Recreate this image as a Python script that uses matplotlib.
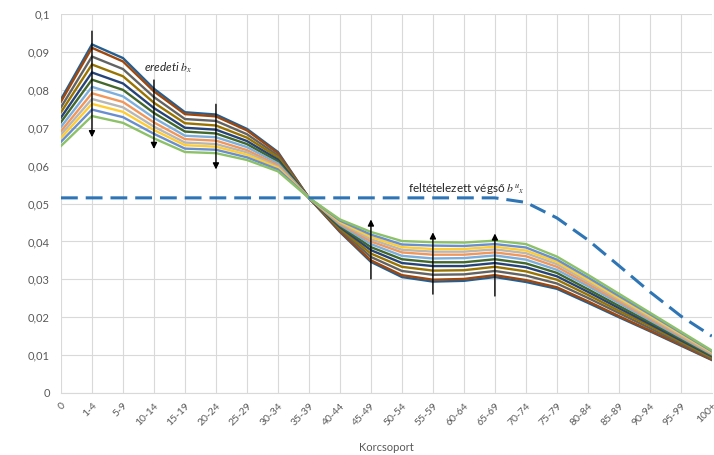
##### b_x convergence chart #####
# Plots the original b_x curves by age group converging towards the assumed final b^u_x

import numpy as np
import matplotlib.pyplot as plt

# Age groups (x axis categories)
korcsoport = ['0', '1-4', '5-9', '10-14', '15-19', '20-24', '25-29', '30-34', '35-39', '40-44',
              '45-49', '50-54', '55-59', '60-64', '65-69', '70-74', '75-79', '80-84', '85-89',
              '90-94', '95-99', '100+']

# b_x series (top line at age 1-4 first)
s1 = [0.0775, 0.0920, 0.0884, 0.0803, 0.0741, 0.0735, 0.0697, 0.0636, 0.0515, 0.0425, 0.0346, 0.0306, 0.0294, 0.0296, 0.0306, 0.0293, 0.0275, 0.0238, 0.0200, 0.0163, 0.0125, 0.0087]
s2 = [0.0769, 0.0911, 0.0875, 0.0796, 0.0736, 0.0730, 0.0693, 0.0633, 0.0515, 0.0427, 0.0350, 0.0311, 0.0299, 0.0301, 0.0311, 0.0298, 0.0279, 0.0242, 0.0203, 0.0165, 0.0127, 0.0088]
s3 = [0.0754, 0.0888, 0.0855, 0.0781, 0.0723, 0.0718, 0.0683, 0.0627, 0.0515, 0.0431, 0.0359, 0.0322, 0.0312, 0.0313, 0.0322, 0.0310, 0.0289, 0.0251, 0.0211, 0.0171, 0.0131, 0.0091]
s4 = [0.0741, 0.0867, 0.0836, 0.0766, 0.0712, 0.0706, 0.0674, 0.0622, 0.0515, 0.0434, 0.0368, 0.0333, 0.0323, 0.0324, 0.0333, 0.0321, 0.0299, 0.0259, 0.0217, 0.0177, 0.0135, 0.0094]
s5 = [0.0727, 0.0846, 0.0817, 0.0752, 0.0700, 0.0695, 0.0665, 0.0616, 0.0515, 0.0438, 0.0377, 0.0343, 0.0335, 0.0335, 0.0343, 0.0332, 0.0308, 0.0267, 0.0224, 0.0182, 0.0139, 0.0097]
s6 = [0.0715, 0.0827, 0.0800, 0.0739, 0.0690, 0.0685, 0.0657, 0.0611, 0.0515, 0.0441, 0.0385, 0.0353, 0.0345, 0.0345, 0.0353, 0.0342, 0.0317, 0.0274, 0.0230, 0.0187, 0.0143, 0.0099]
s7 = [0.0702, 0.0808, 0.0783, 0.0726, 0.0679, 0.0675, 0.0649, 0.0606, 0.0515, 0.0444, 0.0393, 0.0362, 0.0355, 0.0356, 0.0363, 0.0352, 0.0325, 0.0282, 0.0237, 0.0192, 0.0147, 0.0102]
s8 = [0.0691, 0.0791, 0.0768, 0.0714, 0.0670, 0.0666, 0.0641, 0.0601, 0.0515, 0.0447, 0.0400, 0.0371, 0.0365, 0.0365, 0.0371, 0.0361, 0.0333, 0.0288, 0.0242, 0.0196, 0.0150, 0.0104]
s9 = [0.0682, 0.0776, 0.0754, 0.0703, 0.0661, 0.0657, 0.0635, 0.0597, 0.0515, 0.0450, 0.0406, 0.0378, 0.0373, 0.0373, 0.0379, 0.0369, 0.0340, 0.0294, 0.0247, 0.0200, 0.0153, 0.0106]
s10 = [0.0673, 0.0763, 0.0742, 0.0694, 0.0654, 0.0650, 0.0629, 0.0594, 0.0515, 0.0452, 0.0412, 0.0385, 0.0380, 0.0380, 0.0386, 0.0376, 0.0346, 0.0299, 0.0251, 0.0204, 0.0156, 0.0108]
s11 = [0.0663, 0.0748, 0.0728, 0.0684, 0.0645, 0.0642, 0.0622, 0.0590, 0.0515, 0.0455, 0.0418, 0.0392, 0.0389, 0.0388, 0.0393, 0.0384, 0.0352, 0.0305, 0.0256, 0.0208, 0.0159, 0.0110]
s12 = [0.0652, 0.0731, 0.0713, 0.0672, 0.0636, 0.0633, 0.0615, 0.0585, 0.0515, 0.0458, 0.0425, 0.0401, 0.0398, 0.0397, 0.0402, 0.0393, 0.0360, 0.0312, 0.0262, 0.0212, 0.0162, 0.0112]
series = [s1, s2, s3, s4, s5, s6, s7, s8, s9, s10, s11, s12]

# Assumed final b^u_x (dashed)
vegso = [0.0515, 0.0515, 0.0515, 0.0515, 0.0515, 0.0515, 0.0515, 0.0515, 0.0515, 0.0515,
         0.0515, 0.0515, 0.0515, 0.0515, 0.0515, 0.0503, 0.0462, 0.0404, 0.0336, 0.0267,
         0.0203, 0.0150]

# Arrows: category index, start value, tip value
arrow_x = [1, 3, 5, 10, 12, 14]
arrow_from = [0.0955, 0.0826, 0.0762, 0.0301, 0.0261, 0.0256]
arrow_to = [0.0675, 0.0644, 0.0590, 0.0458, 0.0424, 0.0421]

colors = ['#255E91', '#9E480E', '#636363', '#997300', '#264478', '#43682B',
          '#7CAFDD', '#F1975A', '#B7B7B7', '#FFCD33', '#698ED0', '#8CC168']

plt.rcParams['font.family'] = ['Lato', 'DejaVu Sans']

fig = plt.figure(figsize=(7.14, 4.55), dpi=100)
ax = fig.add_axes([0.0854, 0.1363, 0.9116, 0.8327])

x = np.arange(len(korcsoport))
for vals, col in zip(series, colors):
    ax.plot(x, vals, color=col, lw=1.7, solid_joinstyle='miter', zorder=3)

ax.plot(x, vegso, color='#2E75B6', lw=2.2, dashes=(5.5, 2.6), zorder=4)

for xi, y0, y1 in zip(arrow_x, arrow_from, arrow_to):
    ax.annotate('', xy=(xi, y1), xytext=(xi, y0),
                arrowprops=dict(arrowstyle='-|>', color='black', lw=1.0, mutation_scale=9,
                                shrinkA=0, shrinkB=0), zorder=5)

# Text labels
ax.text(2.68, 0.0858, r'eredeti $b_x$', style='italic', fontsize=8.5, color='#262626',
        va='center', ha='left', zorder=6, math_fontfamily='stix')
ax.text(11.19, 0.0541, r'feltételezett végső $b^u{}_x$', fontsize=8.5, color='#262626',
        va='center', ha='left', zorder=6, math_fontfamily='stix')

# Axes styling
ax.set_xlim(0, len(korcsoport) - 1)
ax.set_ylim(0, 0.1)
ax.set_xticks(x)
ax.set_xticklabels(korcsoport, rotation=45, ha='right', rotation_mode='anchor', fontsize=7.5, color='#595959')
yt = np.arange(0, 0.101, 0.01)
ax.set_yticks(yt)
ax.set_yticklabels(['0'] + [('%.2f' % v).replace('.', ',') for v in yt[1:-1]] + ['0,1'],
                   fontsize=8, color='#595959')
ax.tick_params(length=0, pad=8)
ax.tick_params(axis='x', pad=6)
ax.grid(True, color='#D9D9D9', lw=0.8)
ax.set_axisbelow(True)
for side in ['top', 'right', 'left']:
    ax.spines[side].set_visible(False)
ax.spines['bottom'].set_color('#D9D9D9')
ax.set_xlabel('Korcsoport', fontsize=8, color='#595959', va='center')
ax.xaxis.set_label_coords(0.5, -0.145)

plt.savefig('out.png', dpi=100)
plt.close(None)
